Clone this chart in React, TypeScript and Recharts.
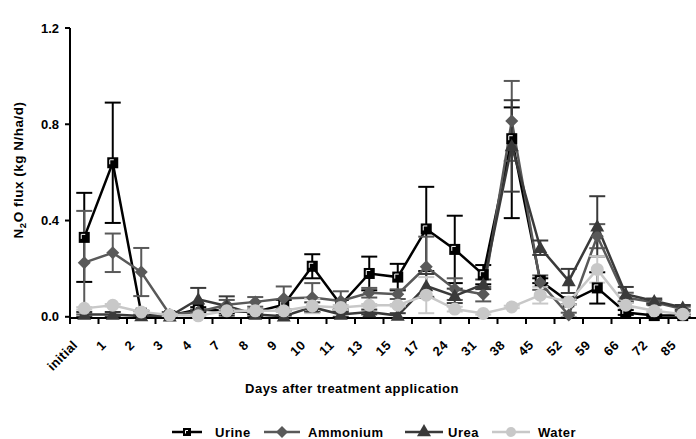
import React from 'react';
import { ComposedChart, Line, XAxis, YAxis, ErrorBar, Legend, Label } from 'recharts';

const categories = ['initial', '1', '2', '3', '4', '7', '8', '9', '10', '11', '13', '15', '17', '24', '31', '38', '45', '52', '59', '66', '72', '85'];

const urine = [0.33, 0.64, 0.015, 0.005, 0.03, 0.025, 0.02, 0.05, 0.21, 0.05, 0.18, 0.165, 0.365, 0.28, 0.175, 0.74, 0.15, 0.062, 0.12, 0.018, 0.005, 0.005];
const urineErr: (number | number[])[] = [0.185, 0.25, 0.01, 0.005, 0.01, 0.01, 0.01, 0.02, 0.05, 0.02, 0.07, 0.055, 0.175, 0.14, 0.04, [0.33, 0.13], 0.01, 0.01, 0.065, 0.01, 0.005, 0.005];

const ammonium = [0.225, 0.266, 0.186, 0.01, 0.02, 0.05, 0.062, 0.076, 0.08, 0.066, 0.1, 0.094, 0.208, 0.115, 0.094, 0.814, 0.142, 0.007, 0.335, 0.08, 0.06, 0.032];
const ammoniumErr = [0.215, 0.08, 0.1, 0.01, 0.01, 0.02, 0.02, 0.05, 0.06, 0.04, 0.02, 0.02, 0.125, 0.045, 0.03, 0.166, 0.03, 0.01, 0.05, 0.02, 0.01, 0.01];

const urea = [0.01, 0.01, 0.003, 0.002, 0.073, 0.045, 0.01, 0.002, 0.04, 0.01, 0.02, 0.005, 0.128, 0.087, 0.135, 0.71, 0.287, 0.149, 0.376, 0.094, 0.066, 0.039];
const ureaErr = [0.01, 0.01, 0.005, 0.005, 0.047, 0.04, 0.01, 0.005, 0.02, 0.01, 0.01, 0.01, 0.05, 0.03, 0.02, 0.19, 0.03, 0.05, 0.125, 0.03, 0.01, 0.01];

const water = [0.035, 0.048, 0.02, 0.007, 0.004, 0.025, 0.025, 0.025, 0.045, 0.039, 0.048, 0.048, 0.09, 0.032, 0.014, 0.041, 0.09, 0.062, 0.197, 0.048, 0.025, 0.011];
const waterErr = [0.005, 0.005, 0.005, 0.005, 0.005, 0.005, 0.005, 0.005, 0.03, 0.01, 0.005, 0.005, 0.075, 0.01, 0.005, 0.005, 0.035, 0.01, 0.055, 0.01, 0.005, 0.005];

const yTicks = [0, 0.4, 0.8, 1.2];

const seriesNames = ['Urine', 'Ammonium', 'Urea', 'Water'];

const data = categories.map((c, i) => ({
  day: c,
  urine: urine[i],
  urineErr: urineErr[i],
  ammonium: ammonium[i],
  ammoniumErr: ammoniumErr[i],
  urea: urea[i],
  ureaErr: ureaErr[i],
  water: water[i],
  waterErr: waterErr[i],
}));

const FONT = 'Arial, "Liberation Sans", sans-serif';
const C_URINE = '#000000';
const C_AMM = '#595959';
const C_UREA = '#3a3a3a';
const C_WATER = '#c8c8c8';

const CHART_W = 700;
const CHART_H = 439;
const PLOT_LEFT = 70;
const PLOT_RIGHT = 697;

const BW = (PLOT_RIGHT - PLOT_LEFT) / categories.length;

const SquareMark = ({ cx, cy, s = 11 }: any) => (
  <g>
    <rect x={cx - s / 2} y={cy - s / 2} width={s} height={s} fill={C_URINE} />
    <polyline
      points={`${cx - s / 2 + 2.5},${cy + 1.5} ${cx - s / 2 + 2.5},${cy - s / 2 + 2.5} ${cx + 1},${cy - s / 2 + 2.5}`}
      fill="none"
      stroke="#fff"
      strokeWidth={1}
    />
  </g>
);
const DiamondMark = ({ cx, cy, r = 6.5, fill = C_AMM }: any) => (
  <polygon points={`${cx},${cy - r} ${cx + r},${cy} ${cx},${cy + r} ${cx - r},${cy}`} fill={fill} />
);
const TriangleMark = ({ cx, cy, r = 7, fill = C_UREA }: any) => (
  <polygon points={`${cx},${cy - r} ${cx + r},${cy + r * 0.75} ${cx - r},${cy + r * 0.75}`} fill={fill} />
);
const CircleMark = ({ cx, cy, r = 6.5, fill = C_WATER }: any) => <circle cx={cx} cy={cy} r={r} fill={fill} />;

const squareDot = (p: any) => <SquareMark key={`u${p.index}`} cx={p.cx} cy={p.cy} />;
const diamondDot = (p: any) => <DiamondMark key={`a${p.index}`} cx={p.cx} cy={p.cy} />;
const triangleDot = (p: any) => <TriangleMark key={`r${p.index}`} cx={p.cx} cy={p.cy} />;
const circleDot = (p: any) => <CircleMark key={`w${p.index}`} cx={p.cx} cy={p.cy} />;

const XTick = (props: any) => {
  const { x, payload } = props;
  const cx = Number(x);
  const ax = cx - 6;
  const ay = 346;
  return (
    <text
      x={ax}
      y={ay}
      transform={`rotate(-45, ${ax}, ${ay})`}
      textAnchor="end"
      fontFamily={FONT}
      fontWeight="bold"
      fontSize={13}
      letterSpacing={0.3}
      fill="#000"
    >
      {payload.value}
    </text>
  );
};

const XTitle = () => (
  <text x={352} y={393} textAnchor="middle" fontFamily={FONT} fontWeight="bold" fontSize={13} letterSpacing={0.5} fill="#000">
    Days after treatment application
  </text>
);

const YTitle = () => (
  <text
    x={0}
    y={0}
    transform="translate(23, 170) rotate(-90)"
    textAnchor="middle"
    fontFamily={FONT}
    fontWeight="bold"
    fontSize={13.5}
    letterSpacing={0.5}
    fill="#000"
  >
    <tspan>N</tspan>
    <tspan fontSize={9.5} dy={3}>2</tspan>
    <tspan dy={-3}>O flux (kg N/ha/d)</tspan>
  </text>
);

const legendItems = [
  { name: seriesNames[0], color: C_URINE, x0: 172, x1: 202, tx: 215, mark: (cx: number, cy: number) => <SquareMark cx={cx} cy={cy} s={8} /> },
  { name: seriesNames[1], color: C_AMM, x0: 264, x1: 300, tx: 308, mark: (cx: number, cy: number) => <DiamondMark cx={cx} cy={cy} r={6} /> },
  { name: seriesNames[2], color: C_UREA, x0: 405, x1: 443, tx: 448, mark: (cx: number, cy: number) => <TriangleMark cx={cx} cy={cy - 1} r={7} /> },
  { name: seriesNames[3], color: C_WATER, x0: 492, x1: 530, tx: 538, mark: (cx: number, cy: number) => <CircleMark cx={cx} cy={cy} r={5} /> },
];

const LegendContent = () => (
  <svg width={CHART_W} height={30} style={{ display: 'block' }}>
    {legendItems.map((it) => {
      const cy = 23;
      const cx = (it.x0 + it.x1) / 2;
      return (
        <g key={it.name}>
          <line x1={it.x0} x2={it.x1} y1={cy} y2={cy} stroke={it.color} strokeWidth={2.5} />
          {it.mark(cx, cy)}
          <text x={it.tx} y={cy + 5} fontFamily={FONT} fontWeight="bold" fontSize={13} letterSpacing={0.5} fill="#000">
            {it.name}
          </text>
        </g>
      );
    })}
  </svg>
);

export default function App() {
  return (
    <div style={{ position: 'absolute', left: 0, top: 0, width: 696, height: 439, overflow: 'hidden', background: '#fff' }}>
      <ComposedChart width={CHART_W} height={CHART_H} data={data} margin={{ top: 28, right: CHART_W - PLOT_RIGHT, bottom: 0, left: 0 }}>
        <XAxis
          dataKey="day"
          scale="band"
          interval={0}
          tickSize={6}
          tickLine={{ stroke: '#000', strokeWidth: 2, transform: `translate(${-BW / 2}, 0)` }}
          axisLine={{ stroke: '#000', strokeWidth: 2 }}
          tick={<XTick />}
          height={91}
        >
          <Label content={<XTitle />} />
        </XAxis>
        <YAxis
          width={PLOT_LEFT}
          domain={[0, 1.2]}
          ticks={yTicks}
          tickFormatter={(v: number) => v.toFixed(1)}
          tickSize={5}
          tickMargin={6}
          axisLine={{ stroke: '#000', strokeWidth: 2 }}
          tickLine={{ stroke: '#000', strokeWidth: 2 }}
          tick={{ fontFamily: FONT, fontWeight: 'bold', fontSize: 13, fill: '#000' }}
        >
          <Label content={<YTitle />} />
        </YAxis>
        <Legend
          verticalAlign="bottom"
          height={30}
          content={<LegendContent />}
          wrapperStyle={{ left: 0, width: CHART_W, height: 30 }}
        />
        <Line dataKey="urine" name="Urine" stroke={C_URINE} strokeWidth={2.5} dot={squareDot} activeDot={false} isAnimationActive={false}>
          <ErrorBar dataKey="urineErr" direction="y" width={8} stroke={C_URINE} strokeWidth={2} />
        </Line>
        <Line dataKey="ammonium" name="Ammonium" stroke={C_AMM} strokeWidth={2.5} dot={diamondDot} activeDot={false} isAnimationActive={false}>
          <ErrorBar dataKey="ammoniumErr" direction="y" width={8} stroke={C_AMM} strokeWidth={2} />
        </Line>
        <Line dataKey="urea" name="Urea" stroke={C_UREA} strokeWidth={2.5} dot={triangleDot} activeDot={false} isAnimationActive={false}>
          <ErrorBar dataKey="ureaErr" direction="y" width={8} stroke={C_UREA} strokeWidth={2} />
        </Line>
        <Line dataKey="water" name="Water" stroke={C_WATER} strokeWidth={2.5} dot={circleDot} activeDot={false} isAnimationActive={false}>
          <ErrorBar dataKey="waterErr" direction="y" width={8} stroke={C_WATER} strokeWidth={2} />
        </Line>
      </ComposedChart>
    </div>
  );
}
